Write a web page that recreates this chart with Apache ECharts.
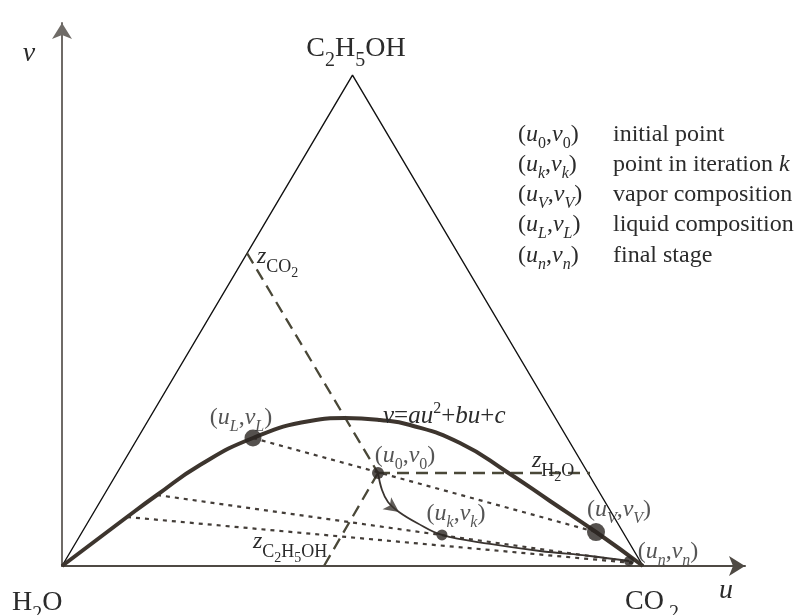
<!DOCTYPE html>
<html><head><meta charset="utf-8">
<script src="https://cdn.jsdelivr.net/npm/echarts@6/dist/echarts.min.js"></script>
<style>html,body{margin:0;padding:0;background:#fff}#c{width:794px;height:615px}</style>
</head><body><div id="c"></div>
<script>
// ---- data (u = horizontal composition coordinate, v = vertical) ----
const triangle = [[0, 0], [0.5, 0.845], [1, 0]];
const curve = [[0, 0], [0.1119, 0.0843], [0.1635, 0.1222], [0.2375, 0.1738], [0.3287, 0.2203],
  [0.4269, 0.2496], [0.4871, 0.2547], [0.5473, 0.2513], [0.5990, 0.2427], [0.6850, 0.2117],
  [0.7659, 0.1618], [0.8399, 0.1119], [0.9191, 0.0585], [1, 0]];
const zCO2Line = [[0.3184, 0.5387], [0.5439, 0.1601]];
const zC2H5OHLine = [[0.5439, 0.1601], [0.4509, 0]];
const zH2OLine = [[0.5439, 0.1601], [0.9088, 0.1601]];
const tieLine1 = [[0.3287, 0.2203], [0.9191, 0.0585]];
const tieLine2 = [[0.1635, 0.1222], [0.9811, 0.0069]];
const tieLine3 = [[0.1119, 0.0843], [0.9828, 0.0052]];
const iterationPath = [[0.5439, 0.1601], [0.5508, 0.1308], [0.5611, 0.1102], [0.5800, 0.0929],
  [0.6110, 0.0740], [0.6540, 0.0534], [0.7367, 0.0379], [0.8227, 0.0258], [0.9088, 0.0172], [0.9759, 0.0086]];
const arrowPoint = [0.5800, 0.0929];
const pointKeys = ['L', '0', 'k', 'V', 'n'];
const pointValues = [[0.3287, 0.2203], [0.5439, 0.1601], [0.6540, 0.0534], [0.9191, 0.0585], [0.9759, 0.0086]];
const legendKeys = ['0', 'k', 'V', 'L', 'n'];
const legendTexts = ['initial point', 'point in iteration ', 'vapor composition', 'liquid composition', 'final stage'];

// ---- styling ----
const SERIF = "'Liberation Serif', 'DejaVu Serif', serif";
const TXT = '#2b2b2b';
function richSet(key) {
  const b = (size, italic, extra) => Object.assign({ fontFamily: SERIF, fontSize: size, fontStyle: italic ? 'italic' : 'normal', [key]: TXT }, extra || {});
  return {
    t: b(24, false, { lineHeight: 28 }),
    i: b(24, true, { lineHeight: 28 }),
    e: b(25, true, { lineHeight: 28 }),
    et: b(25, false, { lineHeight: 28 }),
    s: b(16, true, { lineHeight: 10, padding: [18, 0, 0, 0] }),
    r: b(16, false, { lineHeight: 10, padding: [18, 0, 0, 0] }),
    p: b(16, false, { lineHeight: 10, padding: [0, 0, 14, 0] }),
    zs: b(18, false, { lineHeight: 10, padding: [20, 0, 0, 0] }),
    zss: b(14, false, { lineHeight: 10, padding: [32, 0, 0, 0] }),
    V: b(28, false, { lineHeight: 30 }),
    Vs: b(20, false, { lineHeight: 10, padding: [24, 0, 0, 0] }),
    A: b(28, true, { lineHeight: 30 })
  };
}
const richLabel = richSet('color');
const richG = richSet('fill');
function pairText(k) {
  const sub = /\d/.test(k) ? 'r' : 's';
  return '{t|(}{i|u}{' + sub + '|' + k + '}{t|,}{i|v}{' + sub + '|' + k + '}{t|)}';
}
const labelOffsets = { L: [-12, -20.5], '0': [27, -17.5], k: [14, -21.5], V: [23, -22.5], n: [39, -9.5] };
const dotSizes = { L: 17, '0': 12, k: 11, V: 18, n: 10 };

function gtext(x, y, text, align) {
  return { type: 'text', x: x, y: y, z: 100, style: { text: text, rich: richG, align: align || 'left', verticalAlign: 'middle' } };
}
const graphics = [];
legendKeys.forEach((k, i) => {
  graphics.push(gtext(518, 134.5 + 30.2 * i, pairText(k)));
  graphics.push(gtext(613, 134.5 + 30.2 * i, '{t|' + legendTexts[i] + '}' + (k === 'k' ? '{i|k}' : '')));
});
graphics.push(gtext(356, 49, '{V|C}{Vs|2}{V|H}{Vs|5}{V|OH}', 'center'));
graphics.push(gtext(12, 603, '{V|H}{Vs|2}{V|O}'));
graphics.push(gtext(625, 602, '{V|CO}{Vs| 2}'));
graphics.push(gtext(726, 591, '{A|u}', 'center'));
graphics.push(gtext(29, 54, '{A|v}', 'center'));
graphics.push(gtext(383, 416, '{e|v}{et|=}{e|au}{p|2}{et|+}{e|bu}{et|+}{e|c}'));
graphics.push(gtext(532, 461, '{i|z}{zs|H}{zss|2}{zs|O}'));
graphics.push(gtext(257, 257, '{i|z}{zs|CO}{zss|2}'));
graphics.push(gtext(253, 542, '{i|z}{zs|C}{zss|2}{zs|H}{zss|5}{zs|OH}'));

const dashed = { color: '#4a4838', width: 2.3, type: [12, 7] };
const dotted = { color: '#433d38', width: 2.2, type: [4, 5] };
function lineSeries(data, style, extra) {
  return Object.assign({ type: 'line', data: data, symbol: 'none', lineStyle: style, silent: true, z: 3 }, extra || {});
}

const chart = echarts.init(document.getElementById('c'), null, { renderer: 'canvas' });
chart.setOption({
  animation: false,
  backgroundColor: '#fff',
  grid: { left: 62, right: 49, top: 23, bottom: 49 },
  xAxis: {
    type: 'value', min: 0, max: 683 / 581,
    axisLine: { show: true, symbol: ['none', 'arrow'], symbolSize: [15, 16], lineStyle: { color: '#4f4a44', width: 2 } },
    axisTick: { show: false }, axisLabel: { show: false }, splitLine: { show: false }
  },
  yAxis: {
    type: 'value', min: 0, max: 543 / 581,
    axisLine: { show: true, symbol: ['none', 'arrow'], symbolSize: [15, 16], lineStyle: { color: '#6f6b67', width: 2 } },
    axisTick: { show: false }, axisLabel: { show: false }, splitLine: { show: false }
  },
  graphic: graphics,
  series: [
    lineSeries(triangle, { color: '#111', width: 1.4 }),
    lineSeries(curve, { color: '#3d352e', width: 4 }, { smooth: true, z: 4 }),
    lineSeries(zCO2Line, dashed),
    lineSeries(zC2H5OHLine, dashed),
    lineSeries(zH2OLine, dashed),
    lineSeries(tieLine1, dotted),
    lineSeries(tieLine2, dotted),
    lineSeries(tieLine3, dotted),
    lineSeries(iterationPath, { color: '#3a3430', width: 1.8 }, { smooth: 0.4, z: 5 }),
    {
      type: 'scatter', data: [arrowPoint], symbol: 'arrow', symbolSize: [11, 15], symbolRotate: -126,
      itemStyle: { color: '#3a3430' }, silent: true, z: 6
    },
    {
      type: 'scatter', z: 7, silent: true,
      data: pointValues.map((v, i) => ({
        value: v, symbolSize: dotSizes[pointKeys[i]],
        label: { offset: labelOffsets[pointKeys[i]], formatter: () => pairText(pointKeys[i]) }
      })),
      itemStyle: { color: '#2b2622' },
      label: { show: true, position: 'inside', align: 'center', verticalAlign: 'middle', rich: richLabel, textBorderWidth: 0, color: TXT }
    }
  ]
});
</script></body></html>
